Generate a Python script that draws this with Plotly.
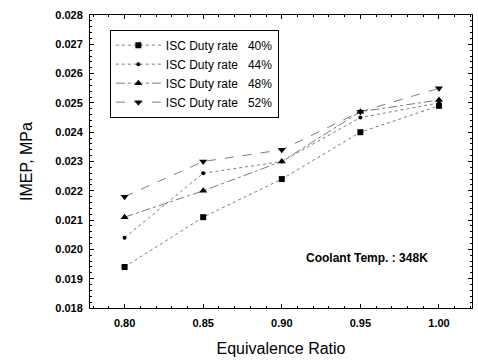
import plotly.graph_objects as go

phi = [0.80, 0.85, 0.90, 0.95, 1.00]
rate40 = [0.0194, 0.0211, 0.0224, 0.0240, 0.0249]
rate44 = [0.0204, 0.0226, 0.0230, 0.0245, 0.0250]
rate48 = [0.0211, 0.0220, 0.0230, 0.0247, 0.0251]
rate52 = [0.0218, 0.0230, 0.0234, 0.0247, 0.0255]
names = ["ISC Duty rate   40%", "ISC Duty rate   44%", "ISC Duty rate   48%", "ISC Duty rate   52%"]
symbols = ["square", "circle", "triangle-up", "triangle-down"]
dashes = ["dot", "dot", "dashdot", "dash"]
sizes = [6, 4, 7, 7]
xticks = ["0.80", "0.85", "0.90", "0.95", "1.00"]

FONT = "Liberation Sans, Arial"

fig = go.Figure()
for ys, nm, sym, d, s in zip([rate40, rate44, rate48, rate52], names, symbols, dashes, sizes):
    fig.add_trace(go.Scatter(x=phi, y=ys, name=nm, mode="lines+markers",
                             line=dict(color="#444444", width=0.7, dash=d),
                             marker=dict(symbol=sym, size=s, color="black")))

fig.add_annotation(x=0.954, y=0.0197, text="<b>Coolant Temp. : 348K</b>", showarrow=False,
                   font=dict(family=FONT, size=12, color="black"))

axis_common = dict(showline=True, linecolor="black", linewidth=1, mirror="ticks",
                   ticks="inside", ticklen=4, tickcolor="black", showgrid=False, zeroline=False,
                   tickfont=dict(family=FONT, size=11, color="black", weight="bold"),
                   minor=dict(ticks="inside", ticklen=2, tickcolor="black"))

fig.update_layout(
    width=478, height=362, paper_bgcolor="white", plot_bgcolor="white",
    margin=dict(l=90, r=6, t=15, b=54),
    font=dict(family=FONT, color="black"),
    xaxis=dict(range=[0.778, 1.021], tickvals=phi, ticktext=xticks, ticklabelstandoff=5,
               title=dict(text="Equivalence Ratio", font=dict(size=16), standoff=14), **axis_common),
    yaxis=dict(range=[0.018, 0.028], dtick=0.001, tickformat=".3f", ticklabelstandoff=4,
               title=dict(text="IMEP, MPa", font=dict(size=16), standoff=18), **axis_common),
    legend=dict(x=0.052, y=0.95, xanchor="left", yanchor="top", bgcolor="white",
                bordercolor="black", borderwidth=1, font=dict(size=12, family=FONT),
                tracegroupgap=0, itemwidth=45),
    showlegend=True,
)
fig.write_html("out.html")
